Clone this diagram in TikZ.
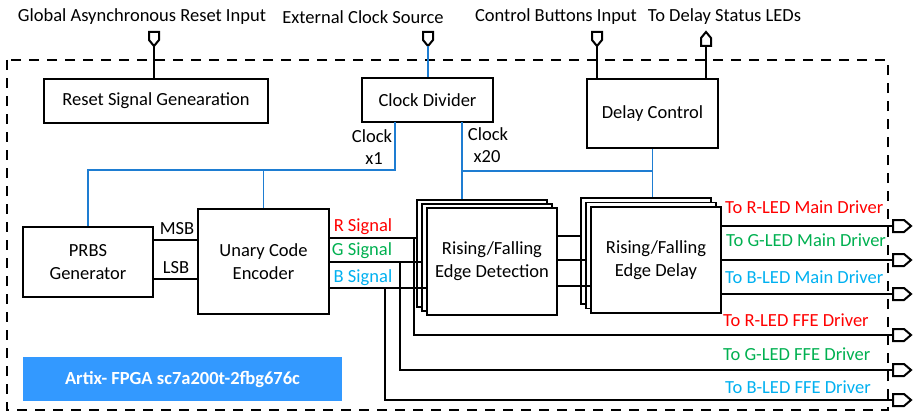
\documentclass[tikz,border=0pt]{standalone}
\usepackage{fontspec}
\setmainfont{Carlito}
\usetikzlibrary{calc}
\definecolor{rcol}{RGB}{255,0,0}
\definecolor{gcol}{RGB}{0,176,80}
\definecolor{bcol}{RGB}{0,176,240}
\definecolor{clk}{RGB}{30,125,210}
\definecolor{fpga}{RGB}{51,153,255}
\newcommand{\lblfont}{\fontsize{18.5}{23}\selectfont}
\begin{document}
\begin{tikzpicture}[x=1pt,y=-1pt,
  box/.style={draw,line width=1.8pt,fill=white,align=center,inner sep=0pt,font=\lblfont},
  wire/.style={line width=1.8pt},
  clkwire/.style={line width=1.8pt,draw=clk},
  port/.style={draw,line width=2pt,fill=white,line join=miter},
  txt/.style={inner sep=0pt,font=\lblfont}]
\useasboundingbox (0,0) rectangle (915,412);
% border
\draw[dash pattern=on 10pt off 8pt, line width=1.8pt] (7,60) rectangle (888,410);
% boxes
\node[box,minimum width=224pt,minimum height=44pt] (rst) at (156,101) {Reset Signal Genearation};
\node[box,minimum width=131pt,minimum height=44pt] (cd) at (427.5,100) {Clock Divider};
\node[box,minimum width=131pt,minimum height=69pt] (dc) at (652.5,113.5) {Delay Control};
\node[box,minimum width=130pt,minimum height=70pt] (prbs) at (88,262) {PRBS\\Generator};
\node[box,minimum width=131pt,minimum height=105pt] (enc) at (263.5,261.5) {Unary Code\\Encoder};
\node[box,minimum width=130pt,minimum height=107pt] (det3) at (482,253.5) {};
\node[box,minimum width=130pt,minimum height=107pt] (det2) at (487,257.5) {};
\node[box,minimum width=130pt,minimum height=107pt] (det) at (492,261.5) {Rising/Falling\\Edge Detection};
\node[box,minimum width=130pt,minimum height=106pt] (del3) at (646,251) {};
\node[box,minimum width=130pt,minimum height=106pt] (del2) at (651,255.5) {};
\node[box,minimum width=130pt,minimum height=106pt] (del) at (656,260) {Rising/Falling\\Edge Delay};
\node[fill=fpga,minimum width=319pt,minimum height=44pt,inner sep=0pt,text=white,font=\bfseries\lblfont] (fpga) at (182.5,379) {Artix- FPGA sc7a200t-2fbg676c};
% top labels
\node[txt] (lrst) at (142,17) {Global Asynchronous Reset Input};
\node[txt] (lclk) at (363,17) {External Clock Source};
\node[txt] (lbtn) at (556,17) {Control Buttons Input};
\node[txt] (lled) at (724.5,17) {To Delay Status LEDs};
% top ports
\coordinate (pr) at (154,32);
\coordinate (pc) at (428,32);
\coordinate (pb) at (597,32);
\coordinate (pl) at (706,32);
\draw[port] ($(pr)+(-5,0)$) -- ++(10,0) -- ++(0,8) -- ++(-5,6) -- ++(-5,-6) -- cycle;
\draw[port] ($(pc)+(-5,0)$) -- ++(10,0) -- ++(0,8) -- ++(-5,6) -- ++(-5,-6) -- cycle;
\draw[port] ($(pb)+(-5,0)$) -- ++(10,0) -- ++(0,8) -- ++(-5,6) -- ++(-5,-6) -- cycle;
\draw[port] ($(pl)+(-5,14)$) -- ++(10,0) -- ++(0,-8) -- ++(-5,-6) -- ++(-5,6) -- cycle;
\draw[wire] ($(pr)+(0,14)$) -- (pr |- rst.north);
\draw[clkwire] ($(pc)+(0,14)$) -- (pc |- cd.north);
\draw[wire] ($(pb)+(0,14)$) -- (pb |- dc.north);
\draw[wire] ($(pl)+(0,14)$) -- (pl |- dc.north);
% clocks
\coordinate (cx1) at (395,122);
\coordinate (h1) at (88,170);
\coordinate (cx20) at (462,122);
\coordinate (h2) at (462,171);
\draw[clkwire] (cx1) |- (h1) -- (prbs.north);
\draw[clkwire] (enc.north |- h1) -- (enc.north);
\draw[clkwire] (cx20) -- (cx20 |- det3.north);
\draw[clkwire] (h2) -- (dc.south |- h2);
\draw[clkwire] (dc.south) -- (dc.south |- del3.north);
\node[txt] (c1a) at (372,136) {Clock};
\node[txt] (c1b) at (374,159) {x1};
\node[txt] (c2a) at (488,134) {Clock};
\node[txt] (c2b) at (487,157) {x20};
% MSB / LSB
\coordinate (ym) at (0,240);
\coordinate (yl) at (0,279);
\draw[wire] (prbs.east |- ym) -- (enc.west |- ym);
\draw[wire] (prbs.east |- yl) -- (enc.west |- yl);
\node[txt] (lmsb) at (177,229) {MSB};
\node[txt] (llsb) at (176,268) {LSB};
% RGB signals
\coordinate (yr) at (0,238);
\coordinate (yg) at (0,262);
\coordinate (yb) at (0,288);
\draw[wire] (enc.east |- yr) -- (det3.west |- yr);
\draw[wire] (enc.east |- yg) -- (det2.west |- yg);
\draw[wire] (enc.east |- yb) -- (det.west |- yb);
\node[txt,text=rcol] (lr) at (363,227) {R Signal};
\node[txt,text=gcol] (lg) at (362,251) {G Signal};
\node[txt,text=bcol] (lb) at (363,278) {B Signal};
% det -> del
\draw[wire] (det.east |- 0,236) -- (del3.west |- 0,236);
\draw[wire] (det.east |- 0,260) -- (del2.west |- 0,260);
\draw[wire] (det.east |- 0,286) -- (del.west |- 0,286);
% output ports
\coordinate (o1) at (893,226);
\coordinate (o2) at (893,260);
\coordinate (o3) at (893,294);
\coordinate (o4) at (893,335);
\coordinate (o5) at (893,370);
\coordinate (o6) at (893,400);
\foreach \o in {o1,o2,o3,o4,o5,o6}{
  \draw[port] ($(\o)+(0,-6)$) -- ++(11,0) -- ++(7,6) -- ++(-7,6) -- ++(-11,0) -- cycle;
}
\draw[wire] (del.east |- o1) -- (o1);
\draw[wire] (del.east |- o2) -- (o2);
\draw[wire] (del.east |- o3) -- (o3);
% FFE branches
\coordinate (jr) at (414,238);
\coordinate (jg) at (400,262);
\coordinate (jb) at (385,288);
\draw[wire] (jr) |- (o4);
\draw[wire] (jg) |- (o5);
\draw[wire] (jb) |- (o6);
% output labels
\node[txt,anchor=west,text=rcol] (t1) at (725,207) {To R-LED Main Driver};
\node[txt,anchor=west,text=gcol] (t2) at (726,240) {To G-LED Main Driver};
\node[txt,anchor=west,text=bcol] (t3) at (725,277) {To B-LED Main Driver};
\node[txt,anchor=west,text=rcol] (t4) at (723,320) {To R-LED FFE Driver};
\node[txt,anchor=west,text=gcol] (t5) at (723,354) {To G-LED FFE Driver};
\node[txt,anchor=west,text=bcol] (t6) at (725,387) {To B-LED FFE Driver};
\end{tikzpicture}
\end{document}
